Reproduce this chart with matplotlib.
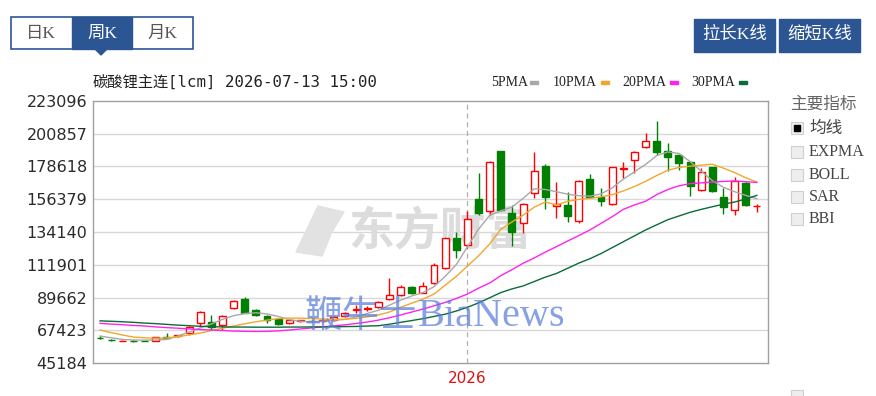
import matplotlib
matplotlib.use('Agg')
import matplotlib.pyplot as plt
from matplotlib.patches import Rectangle, Polygon
import numpy as np

# weekly candles, lithium carbonate main contract
opens = [62300, 61000, 60200, 60300, 60200, 60100, 63000, 63300, 65400, 72100,
         73200, 71000, 82300, 88400, 81200, 77100, 74800, 72100, 73800, 74000,
         73500, 74600, 77100, 81300, 82000, 83400, 88400, 91400, 96600, 92900,
         99300, 109500, 129900, 125300, 156600, 148400, 189400, 146800, 140100, 160400,
         179200, 152000, 152500, 141800, 169900, 157700, 153200, 177000, 183000, 192100,
         196100, 189300, 186400, 181900, 162700, 178100, 157700, 149100, 167100, 151500]
highs = [63300, 61700, 61000, 60800, 60600, 63000, 65500, 64500, 70500, 80500,
         77800, 77500, 88000, 90200, 81600, 77500, 75200, 74700, 74600, 74600,
         75500, 76800, 79800, 84500, 84000, 87200, 102900, 98200, 97200, 100400,
         112900, 130500, 134300, 148400, 174000, 182500, 189400, 152500, 153500, 188700,
         180000, 168300, 161500, 169500, 173500, 164000, 178300, 181900, 189200, 201200,
         209700, 194400, 187000, 182500, 177600, 178500, 164000, 171700, 168300, 153200]
lows = [61300, 60200, 59800, 59600, 59800, 59800, 61800, 63000, 64500, 69800,
        67600, 67600, 81800, 78800, 77300, 72400, 70800, 71800, 73300, 73000,
        73000, 74000, 76600, 79300, 80800, 82800, 88000, 91000, 92000, 92500,
        98800, 109000, 116300, 123100, 146000, 145500, 148500, 124600, 133500, 157200,
        149800, 143900, 141100, 140500, 157000, 151800, 152500, 170600, 174400, 191500,
        186400, 175800, 176200, 158600, 162000, 161500, 146200, 145500, 151800, 147600]
closes = [62000, 60700, 60400, 60000, 60000, 62600, 62200, 64000, 69800, 80000,
          69800, 77100, 87500, 79300, 77800, 74400, 71700, 74400, 74000, 73500,
          74600, 76200, 79300, 81800, 82500, 86800, 91400, 96600, 92500, 97500,
          111700, 129900, 121900, 143000, 146800, 181900, 149100, 134400, 153000, 175800,
          158100, 152900, 145000, 169000, 157700, 155400, 178100, 177700, 188700, 196100,
          188700, 184900, 180800, 165400, 175100, 162000, 151300, 169000, 152500, 152000]

# moving average lines as drawn on the chart
ma5 = [63500, 62300, 61200, 60800, 60700, 60800, 61200, 63500, 66200, 69000,
       71700, 74800, 77300, 78800, 79300, 78500, 76800, 74600, 73500, 73200,
       73600, 74200, 74800, 76500, 78800, 81000, 84500, 87800, 90700, 93000,
       97000, 104000, 112000, 124000, 136000, 145500, 148500, 151000, 157000, 163500,
       163000, 161500, 159800, 158800, 158500, 160000, 164000, 170000, 175000, 180000,
       186000, 188500, 187500, 182000, 175500, 169000, 164500, 161500, 159000, 156800]
ma10 = [67600, 65800, 64200, 62800, 62300, 62000, 62200, 63000, 64300, 65500,
        67200, 68800, 70300, 71800, 73200, 74300, 75300, 75700, 75600, 75400,
        75000, 74800, 74900, 75500, 76500, 77800, 79800, 83000, 85800, 88500,
        92000, 98000, 104000, 111000, 118000, 126000, 136000, 141000, 145500, 151000,
        154500, 152500, 155000, 156300, 157000, 158000, 159500, 162000, 165000, 168500,
        172500, 176000, 178000, 178800, 179500, 180200, 177500, 174500, 171000, 168000]
ma20 = [72100, 71600, 71200, 70700, 70300, 69700, 69200, 68800, 68300, 67900,
        67600, 67200, 66900, 66700, 66600, 66700, 67000, 67600, 68300, 69000,
        69700, 70400, 71100, 72000, 73000, 74300, 75900, 77800, 79800, 81800,
        84000, 86300, 89000, 92000, 96000, 99500, 104500, 108500, 112900, 116500,
        120500, 124200, 128000, 131700, 135500, 140000, 144500, 149500, 152500, 155000,
        159500, 163000, 165500, 167000, 167500, 168000, 168500, 168800, 168300, 167800]
ma30 = [73800, 73500, 73200, 72800, 72300, 71900, 71400, 70900, 70500, 70100,
        69800, 69700, 69600, 69600, 69500, 69500, 69500, 69600, 69600, 69700,
        69700, 69800, 69900, 70000, 70300, 70500, 71500, 72800, 74000, 75300,
        76800, 78300, 80500, 83000, 86000, 89500, 93000, 95500, 97500, 100500,
        103500, 106000, 109500, 113000, 116000, 119500, 123500, 127500, 131500, 135500,
        139000, 142500, 145000, 147500, 149500, 151300, 153000, 154500, 156500, 159000]

yticks = [45184, 67423, 89662, 111901, 134140, 156379, 178618, 200857, 223096]
year_idx = 33
ma_names = ['5PMA', '10PMA', '20PMA', '30PMA']
ma_colors = ['#a8a8a8', '#f3a72a', '#ff22ee', '#0b6b3a']

W, H = 876, 396
CJK = ['Noto Sans CJK SC', 'DejaVu Sans']
SERIF_CJK = ['Liberation Serif', 'Noto Sans CJK SC']
BLUE = '#2c5594'


def fx(px):
    return px / W


def fy(py):
    return 1 - py / H


fig = plt.figure(figsize=(W / 100, H / 100), dpi=100)
fig.patch.set_facecolor('white')

# main chart area
ax = fig.add_axes([fx(93), fy(363), (768 - 93) / W, (363 - 101) / H])
ax.set_xlim(-0.63, 60.0)
ax.set_ylim(yticks[0], yticks[-1])
ax.set_yticks(yticks)
ax.set_yticklabels([str(v) for v in yticks], fontsize=11.5, color='#2a2a2a')
ax.tick_params(axis='y', length=0, pad=4)
ax.set_xticks([])
for s in ax.spines.values():
    s.set_color('#a0a0a0')
    s.set_linewidth(1)
for v in yticks[1:-1]:
    ax.axhline(v, color='#d8d8d8', lw=1, zorder=0)
ax.axvline(year_idx, color='#b0b0b0', lw=0.9, ls=(0, (4, 3)), zorder=0)
ax.text(year_idx, yticks[0] - 10500, '2026', color='#e01010', fontsize=11,
        ha='center', va='center', clip_on=False)

# eastmoney watermark (under the candles)
ax.text(fx(348), fy(232), '东方财富', family=CJK, fontsize=33, fontweight='bold',
        color='#dcdcdc', va='center', ha='left', zorder=1, transform=fig.transFigure)
ax.add_patch(Polygon([(fx(296), fy(252)), (fx(318), fy(206)), (fx(344), fy(212)),
                      (fx(332), fy(232)), (fx(322), fy(256))],
                     closed=True, transform=fig.transFigure, color='#e2e2e2', zorder=1))

x = np.arange(len(opens))
o = np.array(opens)
c = np.array(closes)
up = c >= o
red = '#ff0000'
green = '#007f00'

ax.vlines(x[up], np.array(lows)[up], np.array(highs)[up], color=red, lw=1, zorder=2)
ax.vlines(x[~up], np.array(lows)[~up], np.array(highs)[~up], color=green, lw=1, zorder=2)
bottoms = np.minimum(o, c)
heights = np.maximum(np.abs(c - o), 250)
ax.bar(x[up], heights[up], bottom=bottoms[up], width=0.62, facecolor='white',
       edgecolor=red, lw=1, zorder=3)
ax.bar(x[~up], heights[~up], bottom=bottoms[~up], width=0.62, facecolor=green,
       edgecolor=green, lw=1, zorder=3)

for vals, col in zip([ma5, ma10, ma20, ma30], ma_colors):
    ax.plot(x, vals, color=col, lw=1, zorder=4)

# bianews watermark (over the chart)
fig.text(fx(305), fy(316), '鞭牛士', family=CJK, fontsize=27, color='#5a7ddc',
         alpha=0.72, va='center', ha='left', zorder=10)
fig.text(fx(418), fy(316), 'BiaNews', family='Liberation Serif', fontsize=29,
         color='#5a7ddc', alpha=0.72, va='center', ha='left', zorder=10)

# title and legend
fig.text(fx(93), fy(82), '碳酸锂主连', family=CJK, fontsize=11, color='#222222',
         va='center', ha='left')
fig.text(fx(168), fy(82), '[lcm] 2026-07-13 15:00', family='DejaVu Sans Mono',
         fontsize=11.3, color='#222222', va='center', ha='left')
leg_x = [491, 553, 622, 691]
for name, col, lx in zip(ma_names, ma_colors, leg_x):
    fig.text(fx(lx), fy(82), name, family='Liberation Serif', fontsize=10,
             color='#222222', va='center', ha='left')
    wpx = 36 if len(name) == 4 else 45
    fig.add_artist(Rectangle((fx(lx + wpx + 3), fy(84)), fx(8), 3 / H,
                             transform=fig.transFigure, color=col))

# period tabs
fig.add_artist(Rectangle((fx(11), fy(49)), fx(182), 32 / H, transform=fig.transFigure,
                         facecolor='white', edgecolor=BLUE, lw=1.2))
fig.add_artist(Rectangle((fx(72), fy(49)), fx(60), 32 / H, transform=fig.transFigure,
                         facecolor=BLUE, edgecolor=BLUE, lw=1))
fig.add_artist(Polygon([(fx(95), fy(49)), (fx(107), fy(49)), (fx(101), fy(55))],
                       closed=True, transform=fig.transFigure, color=BLUE))
for label, cx, col in [('日K', 41, '#555555'), ('周K', 102, 'white'), ('月K', 162, '#555555')]:
    fig.text(fx(cx), fy(34), label, family=SERIF_CJK, fontsize=12.5, color=col,
             ha='center', va='center')

# buttons
for label, bx in [('拉长K线', 694), ('缩短K线', 779)]:
    fig.add_artist(Rectangle((fx(bx), fy(52)), fx(81), 33 / H, transform=fig.transFigure,
                             facecolor=BLUE, edgecolor=BLUE))
    fig.text(fx(bx + 40.5), fy(35), label, family=SERIF_CJK, fontsize=12.5, color='white',
             ha='center', va='center')

# indicator panel
fig.text(fx(790), fy(104), '主要指标', family=CJK, fontsize=12, color='#666666',
         ha='left', va='center')
options = ['均线', 'EXPMA', 'BOLL', 'SAR', 'BBI']
opt_y = [128, 152, 175, 197, 219]
for i, (name, oy) in enumerate(zip(options, opt_y)):
    fig.add_artist(Rectangle((fx(791), fy(oy + 6)), fx(12), 12 / H, transform=fig.transFigure,
                             facecolor='#eeeeee', edgecolor='#cfcfcf', lw=0.8))
    if i == 0:
        fig.add_artist(Rectangle((fx(794), fy(oy + 3)), fx(6), 6 / H,
                                 transform=fig.transFigure, color='black'))
        fig.text(fx(809), fy(oy), name, family=CJK, fontsize=12, color='#444444',
                 ha='left', va='center')
    else:
        fig.text(fx(809), fy(oy), name, family='Liberation Serif', fontsize=11.5,
                 color='#444444', ha='left', va='center')
fig.add_artist(Rectangle((fx(791), fy(402)), fx(12), 12 / H, transform=fig.transFigure,
                         facecolor='#eeeeee', edgecolor='#cfcfcf', lw=0.8))

fig.savefig('out.png', dpi=100)
